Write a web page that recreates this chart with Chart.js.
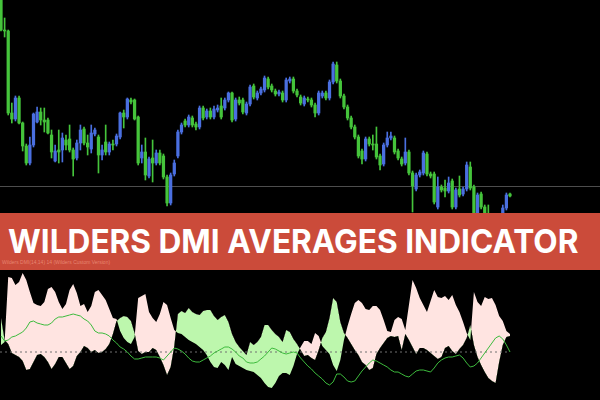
<!DOCTYPE html>
<html>
<head>
<meta charset="utf-8">
<script src="https://cdn.jsdelivr.net/npm/chart.js@4.4.1/dist/chart.umd.min.js"></script>
<style>
    html, body { margin: 0; padding: 0; background: #000; }
    #wrap { position: relative; width: 600px; height: 400px; overflow: hidden; background: #000; }
    #priceChart { position: absolute; left: 0; top: 0; }
    #dmiChart { position: absolute; left: 0; top: 268px; }
    #banner {
        position: absolute; left: 0; top: 213px; width: 600px; height: 57px;
        background: #cb4b3a; line-height: 57px; overflow: hidden;
    }
    #title {
        position: absolute; left: 8px; top: 0;
        color: #fff; font-family: Inter, "Open Sans", sans-serif; font-weight: 700;
        font-size: 33px; white-space: nowrap; transform-origin: left center;
    }
    #subLabel {
        position: absolute; left: 2px; top: 46px; line-height: 7px;
        font-family: "Liberation Sans", sans-serif; font-size: 5px;
        color: rgba(255, 185, 160, 0.55); white-space: nowrap;
    }
</style>
</head>
<body>
<div id="wrap">
    <canvas id="priceChart" width="600" height="260"></canvas>
    <canvas id="dmiChart" width="600" height="132"></canvas>
    <div id="banner">
        <span id="title">WILDERS DMI AVERAGES INDICATOR</span>
        <span id="subLabel">Wilders DMI(14,14) 14 (Wilders Custom Version)</span>
    </div>
</div>
<script>
// Price candles (points), one entry per bar
const openPx = [220,190,189,107,101,122,97,74,57,75, 98,108,100,100,85,59,70,70,80,81,
    70,62,77,91,77,71,86,83,65,78, 68,76,76,83,107,103,120,120,103,62,
    68,44,62,57,67,64,43,17,46,64, 88,99,95,102,96,93,112,103,109,103,
    110,114,112,120,127,101,120,120,107,116, 134,122,127,130,141,134,129,126,127,120,
    139,141,129,123,116,121,120,115,107,124, 127,122,138,155,139,124,113,102,93,83,
    69,61,81,76,76,64,56,75,82,82, 69,61,57,68,47,31,45,47,66,46,
    46,13,33,32,29,39,13,31,26,31, 53,33,5,26,13,0,-12,-6,-14,-5, 12,26];
const closePx = [190,189,107,101,122,97,74,57,75,106, 108,100,98,87,68,69,68,82,75,70,
    61,77,90,77,73,87,90,65,70,68, 76,75,84,107,103,121,118,101,57,68,
    45,61,57,67,57,43,17,45,57,88, 95,95,103,95,93,112,102,109,103,111,
    112,103,120,127,100,120,117,108,116,133, 123,127,131,142,133,130,126,128,120,140,
    141,129,125,117,122,120,115,107,127,127, 122,138,156,139,124,113,102,93,83,64,
    61,81,76,75,63,55,75,82,84,68, 62,56,68,47,34,45,48,67,46,44,
    18,33,30,29,37,13,30,25,31,55, 32,5,25,13,0,-12,-6,-14,-5,12, 25,24];
const highPx = [220,202,190,117,124,124,98,76,83,107, 113,112,112,102,90,75,90,87,85,95,
    72,80,95,93,85,95,92,85,75,95, 78,80,86,108,110,122,122,121,104,75,
    82,63,80,70,70,66,45,47,60,90, 97,101,105,104,98,114,114,111,112,114,
    115,122,122,128,128,122,123,122,118,135, 136,129,133,144,143,136,131,130,129,142,
    143,143,131,125,124,123,122,117,129,129, 129,140,158,158,141,126,115,104,95,85,
    71,83,83,85,93,66,77,88,88,84, 71,63,82,70,49,47,50,69,68,48,
    48,43,35,40,43,41,32,44,33,58, 58,35,27,28,15,15,-4,-4,-2,15, 27,27];
const lowPx = [189,183,105,97,99,96,69,55,55,73, 97,95,88,86,62,58,57,58,70,68,
    44,60,70,75,65,67,84,47,60,65, 65,70,74,81,92,101,116,100,55,57,
    40,42,38,55,55,41,14,15,44,62, 86,93,93,93,90,91,100,101,101,101,
    108,101,110,118,98,99,115,106,105,114, 121,120,125,128,131,128,124,124,118,118,
    137,127,123,115,114,118,113,103,105,122, 120,120,136,137,122,111,100,91,81,62,
    56,59,74,70,61,50,54,73,80,66, 60,54,55,45,8,29,43,45,44,42,
    16,11,28,23,27,11,11,23,24,29, 30,-5,-10,11,-5,-15,-16,-16,-16,-8, 10,23];
const bidLevel = 33.5;

// Indicator: -DI, +DI and the average line
const minusDI = [55,58,123,122,115,118,127,120,108,97, 95,94,98,111,113,108,98,91,96,110,
    116,107,94,96,88,94,108,110,105,100, 91,82,81,69,62,58,56,63,102,104,
    106,88,82,78,86,98,95,82,70,67, 66,63,60,58,56,53,50,45,38,33,
    32,38,35,30,43,36,34,32,30,29, 28,25,22,17,13,12,17,24,27,27,
    25,34,46,53,59,59,56,67,64,54, 50,46,35,29,40,60,74,86,97,100,
    97,91,90,94,94,90,80,69,68,80, 83,81,70,95,120,112,102,95,88,99,
    110,103,102,104,100,105,95,88,78,67, 60,108,98,94,103,101,102,95,84,79, 69,66];
const plusDI = [82,60,56,47,45,43,39,30,31,38, 45,46,43,38,31,36,43,43,37,31,
    34,44,48,54,52,48,50,47,48,51, 56,66,79,82,84,83,79,67,49,46,
    48,48,52,50,43,35,25,33,54,86, 89,87,92,88,86,85,89,90,90,84,
    80,83,85,78,66,58,53,49,45,58, 55,58,63,75,75,70,66,63,58,70,
    68,61,56,50,44,45,42,40,50,62, 68,82,102,98,78,67,62,56,50,45,
    38,35,30,32,46,52,57,62,64,63, 64,50,66,60,53,46,52,52,50,47,
    44,41,43,52,54,49,46,51,55,62, 75,55,43,35,28,22,19,17,38,55, 63,64];
const avgLine = [64,59,60,63,64,66,68,72,78,79, 77,76,75,75,77,81,83,83,84,85,
    86,85,84,81,79,75,69,67,67,66, 64,60,57,53,51,48,44,41,41,42,
    43,43,43,43,42,40,44,48,52,51, 49,46,42,39,38,38,40,42,44,47,
    49,51,53,53,51,48,44,42,38,37, 37,38,41,44,48,52,51,49,47,46,
    47,48,47,42,38,34,31,27,24,21, 17,15,18,26,26,23,19,18,19,24,
    29,33,37,40,39,37,35,33,30,28, 28,26,24,23,26,29,30,30,29,28,
    32,37,40,42,43,43,44,45,42,37, 33,34,37,42,47,52,57,62,64,61, 55,48];
const dmiLevel = 48;

// visible bar range of the window (chart shifted, empty space on the right)
const xMin = -0.277;
const xMax = 165.93;

const upColor = '#4a6fe0';
const downColor = '#45c43b';
const candleColors = openPx.map((o, i) => closePx[i] > o ? upColor : downColor);

const baseOptions = {
    responsive: false,
    animation: false,
    devicePixelRatio: 1,
    layout: { padding: 0 },
    plugins: { legend: { display: false }, tooltip: { enabled: false } }
};

new Chart(document.getElementById('priceChart'), {
    type: 'bar',
    data: {
        datasets: [
            {
                type: 'line',
                data: [{ x: xMin, y: bidLevel }, { x: xMax, y: bidLevel }],
                borderColor: '#4d4d4d',
                borderWidth: 1,
                pointRadius: 0,
                order: 3
            },
            {
                data: lowPx.map((l, i) => ({ x: i, y: [l, highPx[i]] })),
                backgroundColor: candleColors,
                barThickness: 1,
                grouped: false,
                order: 2
            },
            {
                data: openPx.map((o, i) => ({ x: i, y: [o, closePx[i]] })),
                backgroundColor: candleColors,
                barThickness: 2.6,
                minBarLength: 1,
                grouped: false,
                order: 1
            }
        ]
    },
    options: {
        ...baseOptions,
        scales: {
            x: { type: 'linear', min: xMin, max: xMax, display: false, offset: false },
            y: { min: -40, max: 220, display: false }
        }
    }
});

new Chart(document.getElementById('dmiChart'), {
    type: 'line',
    data: {
        datasets: [
            {
                data: avgLine.map((v, i) => ({ x: i, y: v })),
                borderColor: '#3dbb3d',
                borderWidth: 1,
                pointRadius: 0,
                fill: false,
                order: 0
            },
            {
                data: minusDI.map((v, i) => ({ x: i, y: v })),
                borderColor: 'transparent',
                borderWidth: 0,
                pointRadius: 0,
                fill: { target: '+1', above: '#ffe4e1', below: '#bdf7ad' },
                order: 2
            },
            {
                data: plusDI.map((v, i) => ({ x: i, y: v })),
                borderColor: 'transparent',
                borderWidth: 0,
                pointRadius: 0,
                fill: false,
                order: 3
            },
            {
                data: [{ x: xMin, y: dmiLevel }, { x: plusDI.length - 1, y: dmiLevel }],
                borderColor: '#707070',
                borderWidth: 1,
                borderDash: [2, 3],
                pointRadius: 0,
                fill: false,
                order: 1
            }
        ]
    },
    options: {
        ...baseOptions,
        scales: {
            x: { type: 'linear', min: xMin, max: xMax, display: false },
            y: { min: 0, max: 132, display: false }
        }
    }
});

// stretch the title to the banner width
const title = document.getElementById('title');
const titleWidth = title.offsetWidth;
title.style.transform = 'scaleX(' + (570 / titleWidth) + ')';
</script>
</body>
</html>
